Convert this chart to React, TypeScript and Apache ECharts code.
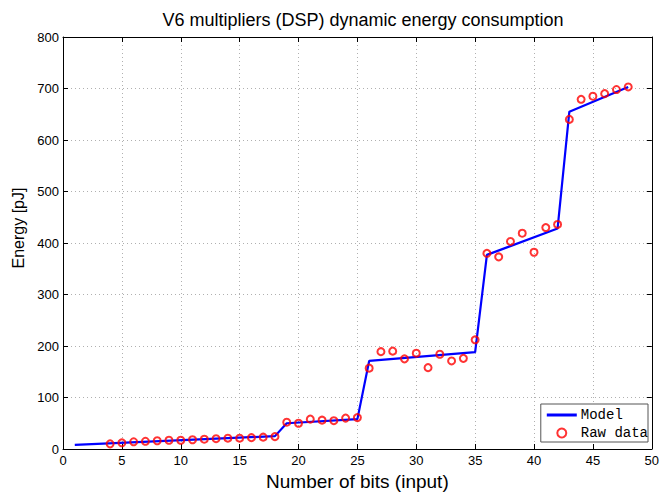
import React, { useEffect, useRef } from "react";
import * as echarts from "echarts";

const rawBits = [4, 5, 6, 7, 8, 9, 10, 11, 12, 13, 14, 15, 16, 17, 18, 19, 20, 21, 22, 23, 24, 25, 26, 27, 28, 29, 30, 31, 32, 33, 34, 35, 36, 37, 38, 39, 40, 41, 42, 43, 44, 45, 46, 47, 48];
const rawEnergy = [10, 12, 14, 15, 16, 17, 17, 18, 19, 20, 21, 21, 22, 23, 24, 52, 50, 58, 56, 55, 60, 61, 157, 189, 190, 175, 186, 158, 184, 171, 176, 212, 380, 373, 403, 419, 382, 430, 436, 640, 679, 685, 690, 698, 703];
const modelBits = [1, 18, 19, 25, 26, 35, 36, 42, 43, 48];
const modelEnergy = [8, 25, 50, 58, 171, 188, 377, 428, 655, 703];

const titleText = "V6 multipliers (DSP) dynamic energy consumption";
const xName = "Number of bits (input)";
const yName = "Energy [pJ]";

export default function App() {
  const ref = useRef<HTMLDivElement>(null);
  useEffect(() => {
    if (!ref.current) return;
    const chart = echarts.init(ref.current, undefined, { renderer: "svg" });
    const font = "Liberation Sans, Arial, sans-serif";
    const split = { show: true, lineStyle: { color: "#b0b0b0", type: [1, 3] as any, width: 1 } };
    chart.setOption({
      animation: false,
      backgroundColor: "#ffffff",
      title: {
        text: titleText,
        left: 358,
        textAlign: "center",
        top: 6,
        textStyle: { fontFamily: font, fontSize: 18, fontWeight: "normal", color: "#000" },
      },
      grid: { left: 63, top: 37, width: 594, height: 412 },
      legend: {
        orient: "vertical",
        right: 14,
        bottom: 57,
        backgroundColor: "#fff",
        borderColor: "#555",
        borderWidth: 1,
        padding: [4, 0, 2, 6],
        itemGap: 4,
        itemWidth: 30,
        itemHeight: 9,
        textStyle: { fontFamily: "Liberation Mono, DejaVu Sans Mono, monospace", fontSize: 14, lineHeight: 14, color: "#000", padding: [0, 0, 0, -1] },
        data: [
          { name: "Model", icon: "path://M0,0 L30,0 L30,3 L0,3 Z", itemStyle: { color: "#0000ff" } },
          { name: "Raw data" },
        ],
      },
      xAxis: [
        {
          type: "value",
          min: 0,
          max: 50,
          interval: 5,
          name: xName,
          nameLocation: "middle",
          nameGap: 22,
          nameTextStyle: { fontFamily: font, fontSize: 19, color: "#000" },
          axisLine: { lineStyle: { color: "#000", width: 1 } },
          axisTick: { inside: true, length: 5, lineStyle: { color: "#000" } },
          axisLabel: { fontFamily: font, fontSize: 13, color: "#000", margin: 5 },
          splitLine: split,
        },
        {
          type: "value",
          position: "top",
          min: 0,
          max: 50,
          interval: 5,
          axisLine: { show: true, onZero: false, lineStyle: { color: "#000", width: 1 } },
          axisTick: { inside: true, length: 5, lineStyle: { color: "#000" } },
          axisLabel: { show: false },
          splitLine: { show: false },
        },
      ],
      yAxis: [
        {
          type: "value",
          min: 0,
          max: 800,
          interval: 100,
          name: yName,
          nameLocation: "middle",
          nameGap: 35,
          nameTextStyle: { fontFamily: font, fontSize: 16, color: "#000", padding: [0, 0, 0, 30] },
          axisLine: { show: true, lineStyle: { color: "#000", width: 1 } },
          axisTick: { show: true, inside: true, length: 5, lineStyle: { color: "#000" } },
          axisLabel: { fontFamily: font, fontSize: 13, color: "#000", margin: 4 },
          splitLine: split,
        },
        {
          type: "value",
          position: "right",
          min: 0,
          max: 800,
          interval: 100,
          axisLine: { show: true, onZero: false, lineStyle: { color: "#000", width: 1 } },
          axisTick: { show: true, inside: true, length: 5, lineStyle: { color: "#000" } },
          axisLabel: { show: false },
          splitLine: { show: false },
        },
      ],
      series: [
        {
          name: "Model",
          type: "line",
          data: modelBits.map((b, i) => [b, modelEnergy[i]]),
          symbol: "none",
          lineStyle: { color: "#0000ff", width: 2.2 },
          itemStyle: { color: "#0000ff" },
          z: 2,
        },
        {
          name: "Raw data",
          type: "scatter",
          data: rawBits.map((b, i) => [b, rawEnergy[i]]),
          symbol: "circle",
          symbolSize: 7,
          itemStyle: { color: "rgba(255,255,255,0)", borderColor: "#ff0000", borderWidth: 2 },
          z: 3,
        },
      ],
    });
    return () => chart.dispose();
  }, []);
  return <div ref={ref} style={{ position: "fixed", left: 0, top: 0, width: 662, height: 499 }} />;
}
